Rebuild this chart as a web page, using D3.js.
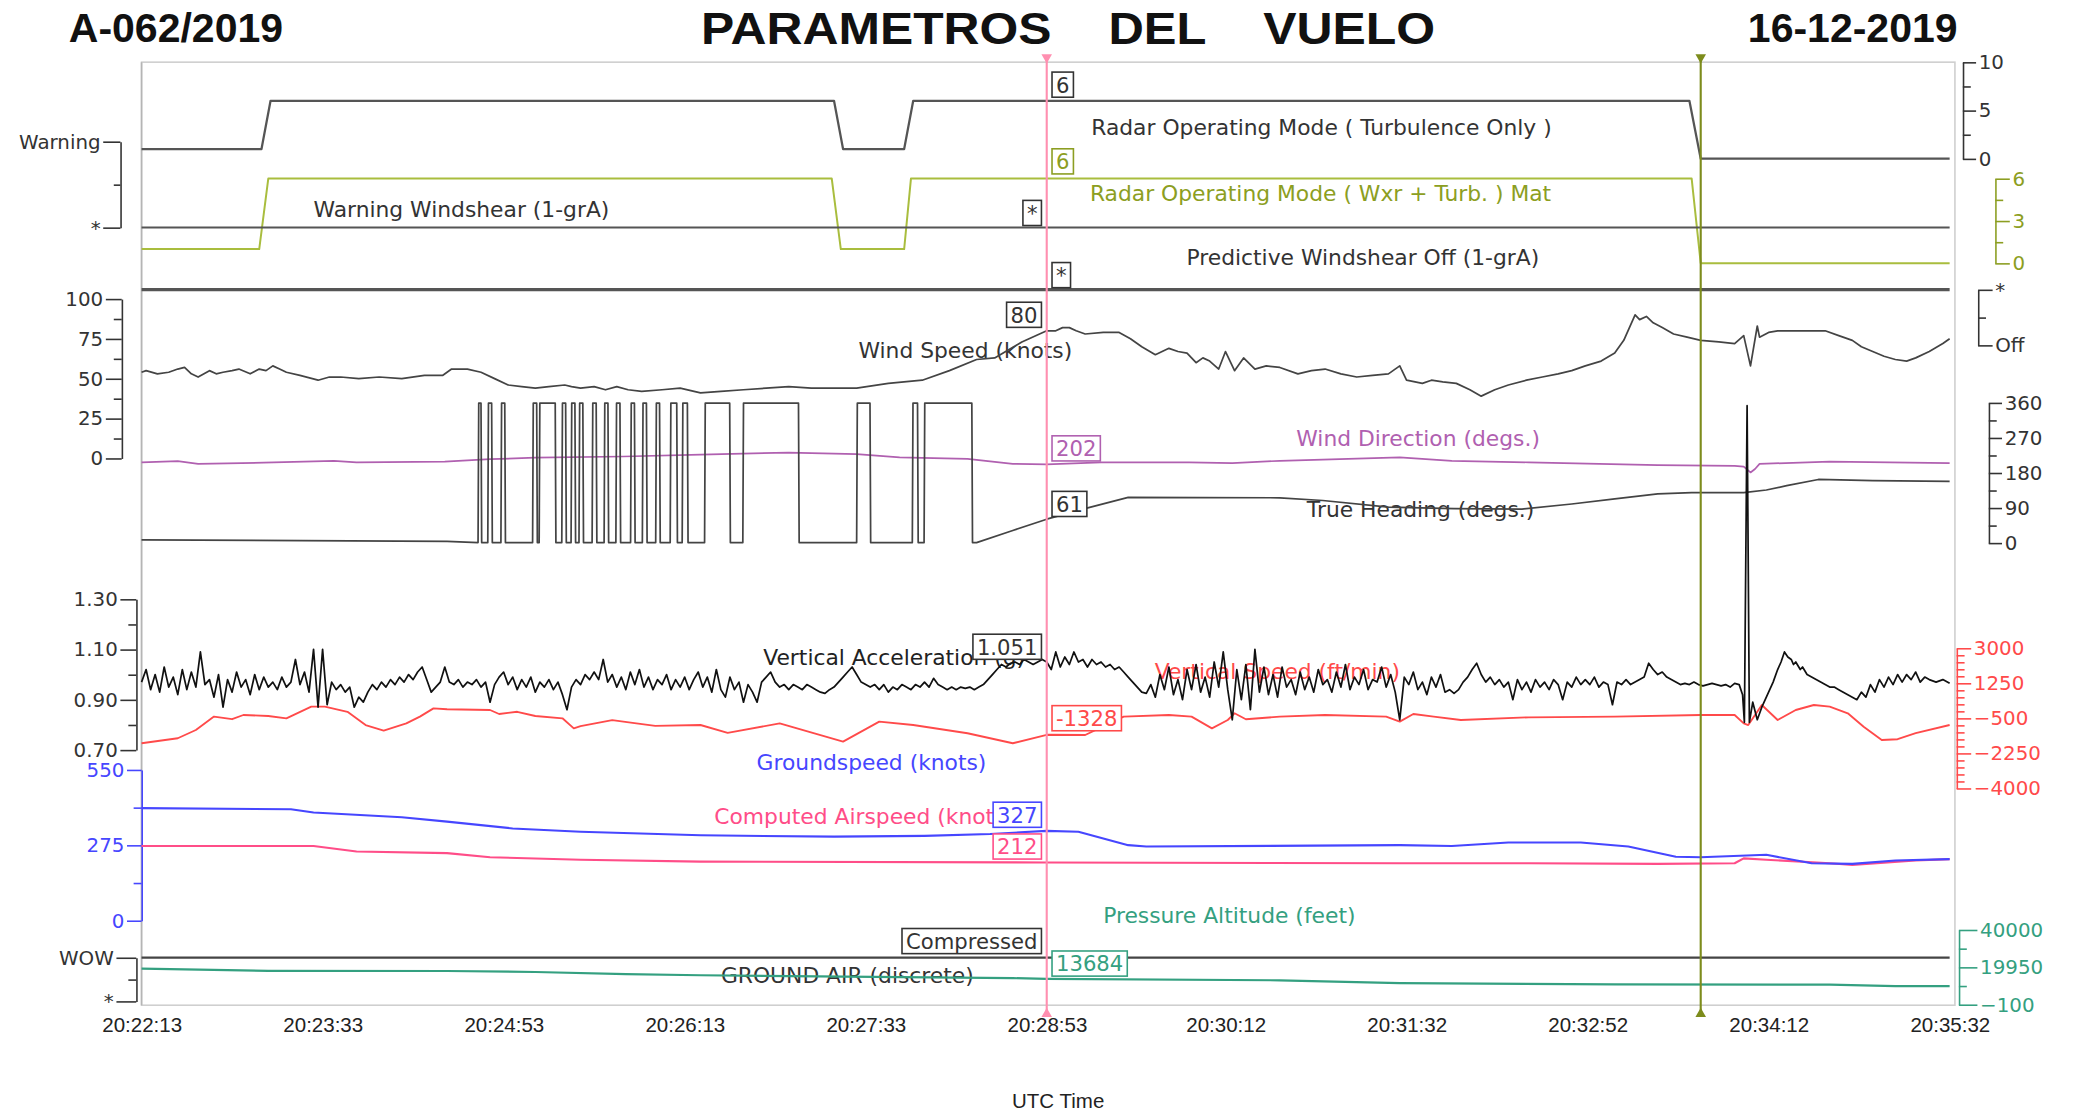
<!DOCTYPE html>
<html><head><meta charset="utf-8">
<script src="https://cdn.jsdelivr.net/npm/d3@7"></script>
<style>
body{margin:0;background:#fff}
svg{display:block}
</style>
</head><body>
<svg id="c" width="2074" height="1115" viewBox="0 0 1568 843"></svg>
<script>
// ---------------- DATA ----------------
const tickSeconds = [0,80,160,240,320,400,479,559,639,719,799];
const tickLabels = ["20:22:13","20:23:33","20:24:53","20:26:13","20:27:33","20:28:53","20:30:12","20:31:32","20:32:52","20:34:12","20:35:32"];
const cursorTimes = [400, 689];

const radarTurb = [[0,1],[53,1],[57,6],[306,6],[310,1],[337,1],[341,6],[684,6],[689,0],[799,0]];
const radarWxr = [[0,1],[52,1],[56,6],[305,6],[309,1],[337,1],[340,6],[685,6],[689,0],[799,0]];
const warnStates = ["*","Warning"];
const warningData = [[0,"*"],[799,"*"]];
const predStates = ["Off","*"];
const predictiveData = [[0,"*"],[799,"*"]];
const wowStates = ["*","WOW"];
const groundAir = [[0,"WOW"],[799,"WOW"]];

const windSpeed = [[0,54],[2,55],[7,53],[12,54],[16,56],[19,57],[22,53],[25,51],[30,55],[33,53],[36,54],[40,55],[43,56],[48,53],[52,56],[55,55],[58,58],[61,56],[64,54],[70,52],[78,49],[83,51],[88,51],[96,50],[105,51],[115,50],[125,52],[133,52],[137,56],[144,56],[150,54],[156,50],[162,46],[168,45],[174,44],[180,45],[187,46],[190,45],[194,44],[200,45],[205,43],[210,45],[215,43],[221,42],[230,43],[238,44],[247,41],[256,42],[266,43],[276,44],[286,45],[296,44],[306,44],[316,44],[330,47],[345,49],[357,55],[369,62],[377,63],[389,73],[400,80],[404,80],[407,82],[410,82],[413,80],[417,78],[425,79],[432,79],[437,75],[442,70],[448,65],[451,67],[454,69],[458,67],[462,66],[466,60],[469,63],[472,61],[476,56],[479,67],[483,55],[487,63],[492,56],[497,58],[503,57],[511,53],[517,55],[523,56],[530,53],[537,51],[544,52],[551,53],[556,58],[559,49],[566,47],[570,49],[575,48],[581,47],[587,43],[592,39],[598,43],[604,46],[612,49],[619,51],[626,53],[632,55],[638,58],[645,61],[651,66],[655,74],[660,90],[662,87],[665,89],[668,85],[672,82],[677,78],[683,76],[689,74],[697,73],[704,72],[708,77],[711,58],[714,83],[715,76],[719,79],[723,80],[733,80],[744,80],[750,77],[756,74],[760,70],[765,67],[770,64],[775,62],[780,61],[784,63],[790,67],[796,72],[799,75]];

const windDir = [[0,207],[16,210],[25,203],[54,206],[85,211],[95,207],[134,209],[154,215],[174,219],[213,222],[247,227],[286,232],[316,228],[335,220],[365,216],[385,203],[400,202],[424,207],[463,207],[482,205],[503,211],[556,220],[579,211],[613,207],[670,200],[704,198],[708,196],[711,181],[713,190],[715,203],[746,209],[799,205]];

const trueHeading = [[0,8],[135,4],[148.7,1],[149,359],[150,359],[150.3,1],[153,1],[153.3,359],[154.7,359],[155,1],[158.8,1],[159.1,359],[160.5,359],[160.8,1],[172.8,1],[173.1,359],[174.6,359],[174.9,1],[175.7,1],[176,359],[182.8,359],[183.1,1],[185.7,1],[186,359],[187.4,359],[187.7,1],[189.8,1],[190.1,359],[191.5,359],[191.8,1],[193.3,1],[193.6,359],[195,359],[195.3,1],[199.1,1],[199.4,359],[200.9,359],[201.2,1],[204.4,1],[204.7,359],[206.1,359],[206.4,1],[209.6,1],[209.9,359],[211.4,359],[211.7,1],[216.1,1],[216.4,359],[217.8,359],[218.1,1],[221.3,1],[221.6,359],[223.1,359],[223.4,1],[227.2,1],[227.5,359],[228.9,359],[229.2,1],[233.6,1],[233.9,359],[236.5,359],[236.8,1],[238.9,1],[239.2,359],[241.2,359],[241.5,1],[248.8,1],[249.1,359],[259.9,359],[260.2,1],[265.7,1],[266,359],[290.3,359],[290.6,1],[316,1],[316.3,359],[321.9,359],[322.2,1],[340.6,1],[340.9,359],[342.9,359],[343.2,1],[345.8,1],[346.1,359],[366.9,359],[367.2,1],[369,1],[385,32],[400,61],[416,87],[436,117],[503,116],[522,109],[551,92],[580,88],[610,87],[632,100],[651,113],[670,126],[685,129],[708,129],[718,136],[727,147],[741,163],[765,160],[799,158]];

// vertical acceleration (g), sampled every 2 s from t = 0 to 706
const vaStep = 2;
const vaValues = [
0.97,1.02,0.94,1.00,0.93,1.03,0.95,0.99,0.92,1.02,
0.94,1.01,0.95,1.09,0.96,0.98,0.91,1.00,0.87,0.98,
0.93,1.01,0.95,0.98,0.92,1.00,0.94,0.99,0.95,0.97,
0.94,0.99,0.95,0.97,1.06,0.96,1.01,0.93,1.10,0.87,
1.10,0.88,0.97,0.94,0.96,0.93,0.95,0.87,0.91,0.89,
0.93,0.96,0.94,0.97,0.95,0.98,0.96,0.99,0.97,1.00,
0.98,1.01,1.03,0.98,0.93,0.95,0.97,1.03,0.97,0.96,
0.98,0.95,0.97,0.96,0.98,0.95,0.97,0.89,0.96,0.99,
1.01,0.96,0.99,0.94,0.98,0.95,0.99,0.93,0.97,0.95,
0.98,0.94,0.97,0.92,0.86,0.95,0.98,0.96,1.00,0.98,
1.01,0.98,1.06,0.97,1.00,0.95,0.99,0.94,1.01,0.96,
1.02,0.95,0.99,0.94,0.98,0.96,1.00,0.94,0.98,0.95,
0.99,0.94,0.98,1.01,0.95,0.99,0.93,1.02,0.94,0.91,
0.99,0.94,0.97,0.89,0.96,0.93,0.89,0.97,0.99,1.01,
0.97,0.95,0.96,0.94,0.96,0.95,0.94,0.96,0.95,0.94,
0.93,0.925,0.94,0.95,0.97,0.99,1.01,1.03,1.00,0.97,
0.96,0.95,0.96,0.94,0.96,0.93,0.95,0.94,0.96,0.95,
0.94,0.96,0.95,0.97,0.95,0.985,0.96,0.95,0.94,0.95,
0.94,0.95,0.945,0.95,0.94,0.95,0.96,0.98,1.00,1.02,
1.04,1.03,1.045,1.05,1.04,1.06,1.05,1.04,1.05,1.06,
1.05,1.02,1.09,1.03,1.07,1.04,1.09,1.05,1.06,1.03,
1.06,1.04,1.05,1.03,1.04,1.02,1.03,1.01,0.99,0.97,
0.95,0.93,0.925,0.96,0.91,1.00,0.94,1.03,0.92,0.98,
0.90,1.02,0.94,1.04,0.93,0.99,0.91,1.05,0.95,1.09,
0.94,0.82,1.02,0.90,1.04,0.86,1.10,0.93,1.03,0.92,
1.00,0.91,1.03,0.95,0.98,0.92,1.01,0.94,0.99,0.93,
1.02,0.96,0.98,0.93,1.01,0.95,1.04,0.94,0.99,0.96,
1.02,0.94,0.98,0.97,1.03,0.95,1.00,0.93,0.82,0.99,
0.96,1.01,0.94,0.97,0.92,0.99,0.95,1.00,0.93,0.94,
0.925,0.94,0.97,0.99,1.02,1.045,1.00,0.97,0.99,0.96,
0.98,0.95,0.97,0.90,0.98,0.94,0.97,0.93,0.98,0.95,
0.97,0.94,0.98,0.96,0.90,0.97,0.95,0.99,0.96,0.98,
0.96,0.99,0.95,0.97,0.96,0.88,0.97,0.96,0.98,0.96,
0.97,0.98,0.99,1.045,1.02,1.00,1.01,0.99,0.98,0.97,
0.96,0.965,0.96,0.97,0.96,0.955,0.96,0.965,0.96,0.955,
0.96,0.95,0.965,0.96];
const vaTail = [[707.5,0.92],[708.3,0.81],[709.5,2.07],[710.5,0.81],[712,0.89],[714,0.82],[716,0.87],[718,0.91],[720,0.95],[721,0.97],[723,1.02],[724.5,1.05],[726,1.09],[727.5,1.07],[729,1.06],[730,1.04],[731,1.05],[733,1.02],[734,1.03],[736,1.00],[738,0.99],[740,0.98],[742,0.97],[744,0.96],[746,0.95],[748,0.95],[750,0.94],[752,0.93],[754,0.92],[756,0.91],[758,0.90],[760,0.93],[762,0.91],[764,0.96],[766,0.93],[768,0.98],[770,0.95],[772,0.99],[774,0.96],[776,1.00],[778,0.97],[780,1.00],[782,0.98],[784,1.01],[786,0.97],[788,0.99],[790,0.98],[793,0.97],[796,0.98],[799,0.965]];

const vertSpeed = [[0,-1750],[16,-1500],[24,-1090],[32,-420],[40,-550],[45,-340],[56,-390],[64,-505],[75,75],[81,75],[91,-180],[99,-840],[107,-1120],[117,-760],[123,-420],[129,-10],[135,-55],[154,-90],[158,-290],[166,-180],[174,-390],[186,-505],[191,-1010],[194,-900],[208,-600],[217,-730],[227,-880],[247,-840],[259,-1230],[282,-760],[310,-1670],[326,-670],[341,-840],[365,-1250],[385,-1750],[400,-1328],[417,-1340],[434,-420],[454,-340],[464,-420],[473,-1010],[480,-590],[483,-255],[488,-550],[503,-420],[523,-340],[550,-420],[556,-670],[562,-290],[571,-420],[583,-590],[613,-455],[651,-420],[689,-340],[704,-340],[708,-760],[710,-840],[716,160],[723,-590],[731,-90],[739,160],[746,75],[754,-255],[761,-925],[769,-1590],[776,-1550],[784,-1250],[799,-840]];

const groundSpeed = [[0,410],[66,406],[76,394],[115,377],[135,361],[164,336],[194,324],[247,311],[306,306],[346,309],[375,316],[400,327],[414,324],[436,275],[444,270],[556,275],[579,272],[604,285],[636,285],[657,270],[678,233],[689,231],[718,240],[738,209],[756,207],[775,219],[799,224]];
const airSpeed = [[0,272],[76,272],[95,252],[135,246],[154,231],[194,222],[247,215],[400,212],[556,209],[613,209],[670,207],[704,209],[708,227],[718,222],[746,209],[756,203],[784,219],[799,224]];
const pressAlt = [[0,19200],[56,18000],[135,17900],[174,17400],[214,16200],[247,15600],[385,14100],[400,13684],[503,12900],[556,11400],[651,10700],[746,10600],[775,9800],[799,9800]];

const cursorReadouts = ["6","6","*","*","80","202","61","1.051","-1328","327","212","Compressed","13684"];
const titleWords = ["PARAMETROS","DEL","VUELO"];

// ---------------- LAYOUT / STYLE ----------------
const C = {olive:"#a9bd3e", oliveText:"#8c9e22", purple:"#b060b0", red:"#ff4a4a",
  blue:"#4646ff", pink:"#ff4d88", teal:"#34a080", cursor1:"#ff8fb0", cursor2:"#7d8c1c", frame:"#cfcfcf"};
const svg = d3.select("#c");
const FONT = "'DejaVu Sans', Verdana, sans-serif";
const ARIAL = "'Liberation Sans', Arial, sans-serif";

const x = d3.scaleLinear().domain([0,799]).range([107,1474]);
const yTurb = d3.scaleLinear().domain([0,10]).range([120,47]);
const yWxr = d3.scaleLinear().domain([0,6]).range([199,135]);
const yWarn = d3.scaleLinear().domain([0,1]).range([172,107]);
const yPred = d3.scaleLinear().domain([0,1]).range([261,219]);
const yWs = d3.scaleLinear().domain([0,100]).range([346.5,226]);
const yHdg = d3.scaleLinear().domain([0,360]).range([410.5,304.5]);
const yVa = d3.scaleLinear().domain([0.7,1.3]).range([567,453]);
const yVs = d3.scaleLinear().domain([-4000,3000]).range([596,490]);
const ySpd = d3.scaleLinear().domain([0,550]).range([696,582]);
const yAlt = d3.scaleLinear().domain([-100,40000]).range([759.5,703]);
const yWow = d3.scaleLinear().domain([0,1]).range([757,724]);

// titles
svg.append("text").attr("x",52).attr("y",32).text("A-062/2019")
  .attr("font-family",ARIAL).attr("font-weight","bold").attr("font-size",31).attr("fill","#111");
const titlePos = [[530,265],[838,74],[955,130]];
titleWords.forEach((t,i)=>{
  svg.append("text").attr("x",titlePos[i][0]).attr("y",33).text(t)
   .attr("textLength",titlePos[i][1]).attr("lengthAdjust","spacingAndGlyphs")
   .attr("font-family",ARIAL).attr("font-weight","bold").attr("font-size",33).attr("fill","#111");
});
svg.append("text").attr("x",1480).attr("y",32).attr("text-anchor","end").text("16-12-2019")
  .attr("font-family",ARIAL).attr("font-weight","bold").attr("font-size",31).attr("fill","#111");

// frame
svg.append("rect").attr("x",107).attr("y",47).attr("width",1371).attr("height",713)
  .attr("fill","none").attr("stroke",C.frame).attr("stroke-width",1.2);
svg.append("line").attr("x1",107).attr("x2",107).attr("y1",47).attr("y2",760).attr("stroke","#b5b5b5").attr("stroke-width",1.2);

// x axis labels
const xAxis = d3.axisBottom(x).tickValues(tickSeconds).tickFormat((d,i)=>tickLabels[i]).tickSize(0).tickPadding(9);
const gx = svg.append("g").attr("transform","translate(0,760)").call(xAxis);
gx.select(".domain").remove();
gx.selectAll("text").attr("font-family",ARIAL).attr("font-size",15.5).attr("fill","#222");
gx.attr("font-size",null).attr("font-family",null);
svg.append("text").attr("x",800).attr("y",838).attr("text-anchor","middle").text("UTC Time")
  .attr("font-family",ARIAL).attr("font-size",15.5).attr("fill","#222");

// y axes
function yAxis(scale, side, xPos, majors, minors, fmt, color, tickLen, minorLen){
  const mk = () => side==="left" ? d3.axisLeft(scale) : d3.axisRight(scale);
  const g = svg.append("g").attr("transform",`translate(${xPos},0)`)
    .call(mk().tickValues(majors).tickSize(tickLen).tickSizeOuter(0).tickPadding(2).tickFormat(fmt));
  g.attr("font-size",null).attr("font-family",null);
  g.selectAll("path,line").attr("stroke",color).attr("stroke-width",1.2);
  g.selectAll("text").attr("fill",color).attr("font-size",15).attr("font-family",FONT);
  if(minors.length){
    const g2 = svg.append("g").attr("transform",`translate(${xPos},0)`)
      .call(mk().tickValues(minors).tickSize(minorLen).tickFormat(""));
    g2.select(".domain").remove();
    g2.selectAll("line").attr("stroke",color).attr("stroke-width",1.2);
  }
}
yAxis(yWarn,"left",91,[0,1],[0.5],i=>warnStates[i],"#333",13,5);
yAxis(yWs,"left",92,[0,25,50,75,100],[12.5,37.5,62.5,87.5],d3.format("d"),"#333",12,6);
yAxis(yVa,"left",103,[0.7,0.9,1.1,1.3],[0.8,1.0,1.2],d3.format(".2f"),"#333",12,6);
yAxis(ySpd,"left",107,[0,275,550],[137.5,412.5],d3.format("d"),C.blue,11,6);
yAxis(yWow,"left",103,[0,1],[0.5],i=>wowStates[i],"#333",15,6);
yAxis(yTurb,"right",1484,[0,5,10],[2.5,7.5],d3.format("d"),"#333",10,6);
yAxis(yWxr,"right",1508.5,[0,3,6],[1.5,4.5],d3.format("d"),C.oliveText,11,6);
yAxis(yPred,"right",1495.5,[0,1],[0.5],i=>predStates[i],"#333",11,6);
yAxis(yHdg,"right",1503.6,[0,90,180,270,360],[45,135,225,315],d3.format("d"),"#333",10,6);
yAxis(yVs,"right",1479.3,[-4000,-2250,-500,1250,3000],
  d3.range(-4000,3000,350).filter(v=>(v+4000)%1750!==0),d3.format("d"),C.red,11,6);
yAxis(yAlt,"right",1481,[-100,19950,40000],[9925,29975],d3.format("d"),C.teal,14,6);

// series labels (drawn under lines)
const labels = [
 ["Radar Operating Mode ( Turbulence Only )",825,102,"#333"],
 ["Radar Operating Mode ( Wxr + Turb. ) Mat",824,152,C.oliveText],
 ["Warning Windshear (1-grA)",237,164,"#333"],
 ["Predictive Windshear Off (1-grA)",897,200,"#333"],
 ["Wind Speed (knots)",649,271,"#333"],
 ["Wind Direction (degs.)",980,337,C.purple],
 ["True Heading (degs.)",988,391,"#333"],
 ["Vertical Acceleration (g)",577,503,"#222"],
 ["Vertical Speed (ft/min)",873,513,C.red],
 ["Groundspeed (knots)",572,582,C.blue],
 ["Computed Airspeed (knots)",540,623,C.pink],
 ["Pressure Altitude (feet)",834,698,C.teal],
 ["GROUND AIR (discrete)",545,743,"#333"]];
labels.forEach(([t,lx,ly,col])=>{
  svg.append("text").attr("x",lx).attr("y",ly).text(t).attr("fill",col)
    .attr("font-family",FONT).attr("font-size",16.5);
});

// lines
function drawLine(data, yS, color, w, yAcc){
  const line = d3.line().x(d=>x(d[0])).y(d=>yS(yAcc ? yAcc(d[1]) : d[1]));
  svg.append("path").datum(data).attr("d",line).attr("fill","none")
    .attr("stroke",color).attr("stroke-width",w).attr("stroke-linejoin","round");
}
drawLine(radarTurb,yTurb,"#555",1.7);
drawLine(radarWxr,yWxr,C.olive,1.5);
drawLine(warningData,yWarn,"#555",1.5,v=>warnStates.indexOf(v));
drawLine(predictiveData,yPred,"#555",2.4,v=>predStates.indexOf(v));
drawLine(windSpeed,yWs,"#444",1.3);
drawLine(windDir,yHdg,C.purple,1.3);
drawLine(trueHeading,yHdg,"#444",1.3);
drawLine(vertSpeed,yVs,C.red,1.4);
const vaData = vaValues.map((v,i)=>[i*vaStep,v]).concat(vaTail);
drawLine(vaData,yVa,"#111",1.3);
drawLine(airSpeed,ySpd,C.pink,1.6);
drawLine(groundSpeed,ySpd,C.blue,1.6);
drawLine(pressAlt,yAlt,C.teal,1.6);
drawLine(groundAir,yWow,"#444",1.6,v=>wowStates.indexOf(v));

// cursors
[[cursorTimes[0],C.cursor1],[cursorTimes[1],C.cursor2]].forEach(([t,col])=>{
  const cx = x(t);
  svg.append("line").attr("x1",cx).attr("x2",cx).attr("y1",42).attr("y2",768)
    .attr("stroke",col).attr("stroke-width",1.6);
  svg.append("path").attr("d",`M${cx-4},41 L${cx+4},41 L${cx},48 Z`).attr("fill",col);
  svg.append("path").attr("d",`M${cx-4},769 L${cx+4},769 L${cx},762 Z`).attr("fill",col);
});

// cursor readout boxes
const boxLayout = [
 ["r",64,"#333"],["r",122,C.oliveText],["l",161,"#333"],["r",208,"#333"],["l",238,"#333"],
 ["r",339,C.purple],["r",381,"#333"],["l",489,"#333"],["r",543,C.red],["l",616,C.blue],
 ["l",640,C.pink],["l",711.5,"#333"],["r",728.5,C.teal]];
const cx0 = x(cursorTimes[0]);
cursorReadouts.forEach((txt,i)=>{
  const [side,yc,col] = boxLayout[i];
  const g = svg.append("g");
  const tx = side==="r" ? cx0+7 : cx0-7;
  const t = g.append("text").attr("x",tx).attr("y",yc+6).text(txt).attr("fill",col)
    .attr("font-family",FONT).attr("font-size",16).attr("text-anchor",side==="r"?"start":"end");
  const bb = t.node().getBBox();
  g.insert("rect","text").attr("x",bb.x-3).attr("y",yc-9.5).attr("width",bb.width+6).attr("height",19)
    .attr("fill","#fff").attr("stroke",col).attr("stroke-width",1.2);
});
</script>
</body></html>
